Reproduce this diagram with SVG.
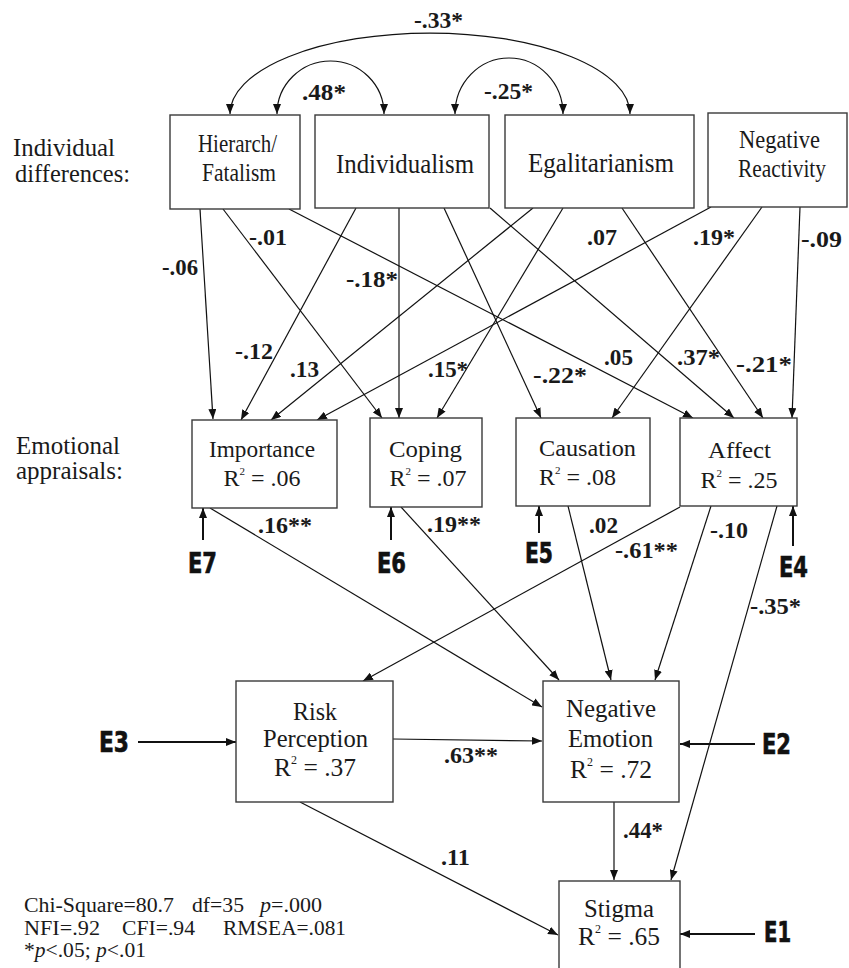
<svg xmlns="http://www.w3.org/2000/svg" width="849" height="968" viewBox="0 0 849 968">
<style>
  .box { fill: #ffffff; stroke: #3a3a3a; stroke-width: 1.4; }
  .nt { font-family: "Liberation Serif", "Times New Roman", serif; fill: #1a1a1a; }
  .lbl { font-family: "Liberation Serif", "Times New Roman", serif; font-weight: bold; font-size: 23.5px; fill: #1a1a1a; }
  .err { font-family: "DejaVu Sans", "Liberation Sans", sans-serif; font-weight: bold; font-size: 28px; fill: #111111; stroke: #111111; stroke-width: 0.7; }
  .stat { font-family: "Liberation Serif", "Times New Roman", serif; font-size: 20px; fill: #1a1a1a; }
  .ln { fill: none; stroke: #111111; stroke-width: 1.2; marker-end: url(#ah); }
  .eln { fill: none; stroke: #111111; stroke-width: 2; marker-end: url(#ah); }
  .arc { fill: none; stroke: #111111; stroke-width: 1.2; marker-start: url(#ah); marker-end: url(#ah); }
</style>
<defs>
  <marker id="ah" markerUnits="userSpaceOnUse" markerWidth="10" markerHeight="8" refX="10" refY="4" orient="auto-start-reverse" viewBox="0 0 10 8">
    <path d="M0,0 L10,4 L0,8 z" fill="#111111"/>
  </marker>
</defs>
<rect x="0" y="0" width="849" height="968" fill="#ffffff"/>

<!-- side labels -->
<g id="side-labels" class="nt" font-size="25">
  <text x="13" y="156" textLength="102" lengthAdjust="spacingAndGlyphs">Individual</text>
  <text x="15" y="182" textLength="115" lengthAdjust="spacingAndGlyphs">differences:</text>
  <text x="16" y="454" textLength="104" lengthAdjust="spacingAndGlyphs">Emotional</text>
  <text x="16" y="479" textLength="107" lengthAdjust="spacingAndGlyphs">appraisals:</text>
</g>

<!-- connectors -->
<g id="connectors">
  <!-- correlation arcs -->
  <path class="arc" d="M230,114 A200,81 0 0 1 630,114"/>
  <path class="arc" d="M277,114 A53.5,53 0 0 1 384,114"/>
  <path class="arc" d="M455,114 A54,56 0 0 1 563,114"/>
  <!-- individual differences to appraisals -->
  <path class="ln" d="M200,209 L213,419"/>
  <path class="ln" d="M223,209 L382,418"/>
  <path class="ln" d="M289,209 L693,418"/>
  <path class="ln" d="M356,208 L241,420"/>
  <path class="ln" d="M399,208 L399,418"/>
  <path class="ln" d="M444,208 L541,418"/>
  <path class="ln" d="M490,208 L734,418"/>
  <path class="ln" d="M533,208 L271,420"/>
  <path class="ln" d="M563,208 L437,418"/>
  <path class="ln" d="M622,208 L763,418"/>
  <path class="ln" d="M711,207 L317,420"/>
  <path class="ln" d="M762,207 L612,418"/>
  <path class="ln" d="M800,207 L792,418"/>
  <!-- appraisals to outcomes -->
  <path class="ln" d="M210,508 L542,707"/>
  <path class="ln" d="M401,507 L559,680"/>
  <path class="ln" d="M568,506 L611,680"/>
  <path class="ln" d="M680,507 L363,681"/>
  <path class="ln" d="M711,506 L655,680"/>
  <path class="ln" d="M777,506 L671,880"/>
  <path class="ln" d="M393,739 L542,741"/>
  <path class="ln" d="M300,802 L558,935"/>
  <path class="ln" d="M614,802 L614,880"/>
  <!-- error terms -->
  <path class="eln" d="M203,540 L203,508"/>
  <path class="eln" d="M391,540 L391,507"/>
  <path class="eln" d="M539,533 L539,506"/>
  <path class="eln" d="M793,546 L793,506"/>
  <path class="eln" d="M138,742 L236,742"/>
  <path class="eln" d="M755,744 L680,744"/>
  <path class="eln" d="M755,934 L680,934"/>
</g>

<!-- path coefficient labels -->
<g id="coefficients" class="lbl">
  <text x="414" y="28" textLength="49" lengthAdjust="spacingAndGlyphs">-.33*</text>
  <text x="302" y="100" textLength="44" lengthAdjust="spacingAndGlyphs">.48*</text>
  <text x="484" y="99" textLength="49" lengthAdjust="spacingAndGlyphs">-.25*</text>
  <text x="162" y="275" textLength="36" lengthAdjust="spacingAndGlyphs">-.06</text>
  <text x="249" y="245" textLength="38" lengthAdjust="spacingAndGlyphs">-.01</text>
  <text x="346" y="287" textLength="52" lengthAdjust="spacingAndGlyphs">-.18*</text>
  <text x="587" y="245" textLength="30" lengthAdjust="spacingAndGlyphs">.07</text>
  <text x="693" y="245" textLength="42" lengthAdjust="spacingAndGlyphs">.19*</text>
  <text x="801" y="247" textLength="41" lengthAdjust="spacingAndGlyphs">-.09</text>
  <text x="235" y="359" textLength="38" lengthAdjust="spacingAndGlyphs">-.12</text>
  <text x="290" y="377" textLength="29" lengthAdjust="spacingAndGlyphs">.13</text>
  <text x="428" y="377" textLength="40" lengthAdjust="spacingAndGlyphs">.15*</text>
  <text x="533" y="383" textLength="54" lengthAdjust="spacingAndGlyphs">-.22*</text>
  <text x="604" y="365" textLength="29" lengthAdjust="spacingAndGlyphs">.05</text>
  <text x="677" y="365" textLength="43" lengthAdjust="spacingAndGlyphs">.37*</text>
  <text x="736" y="372" textLength="56" lengthAdjust="spacingAndGlyphs">-.21*</text>
  <text x="258" y="533" textLength="54" lengthAdjust="spacingAndGlyphs">.16**</text>
  <text x="427" y="532" textLength="54" lengthAdjust="spacingAndGlyphs">.19**</text>
  <text x="589" y="533" textLength="29" lengthAdjust="spacingAndGlyphs">.02</text>
  <text x="615" y="558" textLength="63" lengthAdjust="spacingAndGlyphs">-.61**</text>
  <text x="710" y="538" textLength="38" lengthAdjust="spacingAndGlyphs">-.10</text>
  <text x="750" y="614" textLength="51" lengthAdjust="spacingAndGlyphs">-.35*</text>
  <text x="444" y="763" textLength="54" lengthAdjust="spacingAndGlyphs">.63**</text>
  <text x="441" y="865" textLength="29" lengthAdjust="spacingAndGlyphs">.11</text>
  <text x="623" y="838" textLength="40" lengthAdjust="spacingAndGlyphs">.44*</text>
</g>

<!-- error term labels -->
<g id="errors" class="err">
  <text x="188" y="573" textLength="29" lengthAdjust="spacingAndGlyphs">E7</text>
  <text x="377" y="573" textLength="29" lengthAdjust="spacingAndGlyphs">E6</text>
  <text x="525" y="563" textLength="28" lengthAdjust="spacingAndGlyphs">E5</text>
  <text x="779" y="577" textLength="29" lengthAdjust="spacingAndGlyphs">E4</text>
  <text x="99" y="752" textLength="30" lengthAdjust="spacingAndGlyphs">E3</text>
  <text x="762" y="754" textLength="29" lengthAdjust="spacingAndGlyphs">E2</text>
  <text x="764" y="942" textLength="27" lengthAdjust="spacingAndGlyphs">E1</text>
</g>

<!-- nodes: individual differences -->
<g id="node-hierarch">
  <rect class="box" x="170" y="115" width="130" height="94"/>
  <text class="nt" font-size="24.5" x="198" y="152" textLength="79" lengthAdjust="spacingAndGlyphs">Hierarch/</text>
  <text class="nt" font-size="24.5" x="202" y="181" textLength="74" lengthAdjust="spacingAndGlyphs">Fatalism</text>
</g>
<g id="node-individualism">
  <rect class="box" x="315" y="115" width="174" height="93"/>
  <text class="nt" font-size="26.5" x="336" y="173" textLength="138" lengthAdjust="spacingAndGlyphs">Individualism</text>
</g>
<g id="node-egalitarianism">
  <rect class="box" x="505" y="115" width="189" height="93"/>
  <text class="nt" font-size="26.5" x="528" y="172" textLength="146" lengthAdjust="spacingAndGlyphs">Egalitarianism</text>
</g>
<g id="node-negreactivity">
  <rect class="box" x="708" y="113" width="139" height="94"/>
  <text class="nt" font-size="24.5" x="739" y="148" textLength="81" lengthAdjust="spacingAndGlyphs">Negative</text>
  <text class="nt" font-size="24.5" x="738" y="177" textLength="88" lengthAdjust="spacingAndGlyphs">Reactivity</text>
</g>

<!-- nodes: emotional appraisals -->
<g id="node-importance">
  <rect class="box" x="192" y="420" width="145" height="88"/>
  <text class="nt" font-size="24" x="209" y="457" textLength="106" lengthAdjust="spacingAndGlyphs">Importance</text>
  <text class="nt" font-size="24" x="262" y="486" text-anchor="middle">R<tspan font-size="11" dy="-11">2</tspan><tspan dy="11"> = .06</tspan></text>
</g>
<g id="node-coping">
  <rect class="box" x="370" y="418" width="112" height="89"/>
  <text class="nt" font-size="24" x="389" y="457" textLength="73" lengthAdjust="spacingAndGlyphs">Coping</text>
  <text class="nt" font-size="24" x="428" y="486" text-anchor="middle">R<tspan font-size="11" dy="-11">2</tspan><tspan dy="11"> = .07</tspan></text>
</g>
<g id="node-causation">
  <rect class="box" x="516" y="418" width="134" height="88"/>
  <text class="nt" font-size="24" x="539" y="456" textLength="97" lengthAdjust="spacingAndGlyphs">Causation</text>
  <text class="nt" font-size="24" x="539" y="485">R<tspan font-size="11" dy="-11">2</tspan><tspan dy="11"> = .08</tspan></text>
</g>
<g id="node-affect">
  <rect class="box" x="680" y="418" width="117" height="88"/>
  <text class="nt" font-size="24" x="708" y="458" textLength="63" lengthAdjust="spacingAndGlyphs">Affect</text>
  <text class="nt" font-size="24" x="739" y="488" text-anchor="middle">R<tspan font-size="11" dy="-11">2</tspan><tspan dy="11"> = .25</tspan></text>
</g>

<!-- nodes: outcomes -->
<g id="node-risk">
  <rect class="box" x="236" y="681" width="157" height="121"/>
  <text class="nt" font-size="25.5" x="293" y="720" textLength="44" lengthAdjust="spacingAndGlyphs">Risk</text>
  <text class="nt" font-size="25.5" x="263" y="747" textLength="105" lengthAdjust="spacingAndGlyphs">Perception</text>
  <text class="nt" font-size="25.5" x="315" y="776" text-anchor="middle">R<tspan font-size="12" dy="-12">2</tspan><tspan dy="12"> = .37</tspan></text>
</g>
<g id="node-negemotion">
  <rect class="box" x="543" y="681" width="136" height="121"/>
  <text class="nt" font-size="25.5" x="566" y="717" textLength="90" lengthAdjust="spacingAndGlyphs">Negative</text>
  <text class="nt" font-size="25.5" x="568" y="747" textLength="85" lengthAdjust="spacingAndGlyphs">Emotion</text>
  <text class="nt" font-size="25.5" x="611" y="778" text-anchor="middle">R<tspan font-size="12" dy="-12">2</tspan><tspan dy="12"> = .72</tspan></text>
</g>
<g id="node-stigma">
  <rect class="box" x="559" y="881" width="121" height="100"/>
  <text class="nt" font-size="25.5" x="584" y="917" textLength="70" lengthAdjust="spacingAndGlyphs">Stigma</text>
  <text class="nt" font-size="25.5" x="619" y="945" text-anchor="middle">R<tspan font-size="12" dy="-12">2</tspan><tspan dy="12"> = .65</tspan></text>
</g>

<!-- fit statistics -->
<g id="fit-stats" class="stat">
  <text x="24" y="912" textLength="150" lengthAdjust="spacingAndGlyphs">Chi-Square=80.7</text>
  <text x="192" y="912" textLength="52" lengthAdjust="spacingAndGlyphs">df=35</text>
  <text x="260" y="912" textLength="62" lengthAdjust="spacingAndGlyphs"><tspan font-style="italic">p</tspan>=.000</text>
  <text x="24" y="935" textLength="76" lengthAdjust="spacingAndGlyphs">NFI=.92</text>
  <text x="122" y="935" textLength="73" lengthAdjust="spacingAndGlyphs">CFI=.94</text>
  <text x="223" y="935" textLength="123" lengthAdjust="spacingAndGlyphs">RMSEA=.081</text>
  <text x="24" y="957" textLength="122" lengthAdjust="spacingAndGlyphs">*<tspan font-style="italic">p</tspan>&lt;.05; <tspan font-style="italic">p</tspan>&lt;.01</text>
</g>
</svg>
